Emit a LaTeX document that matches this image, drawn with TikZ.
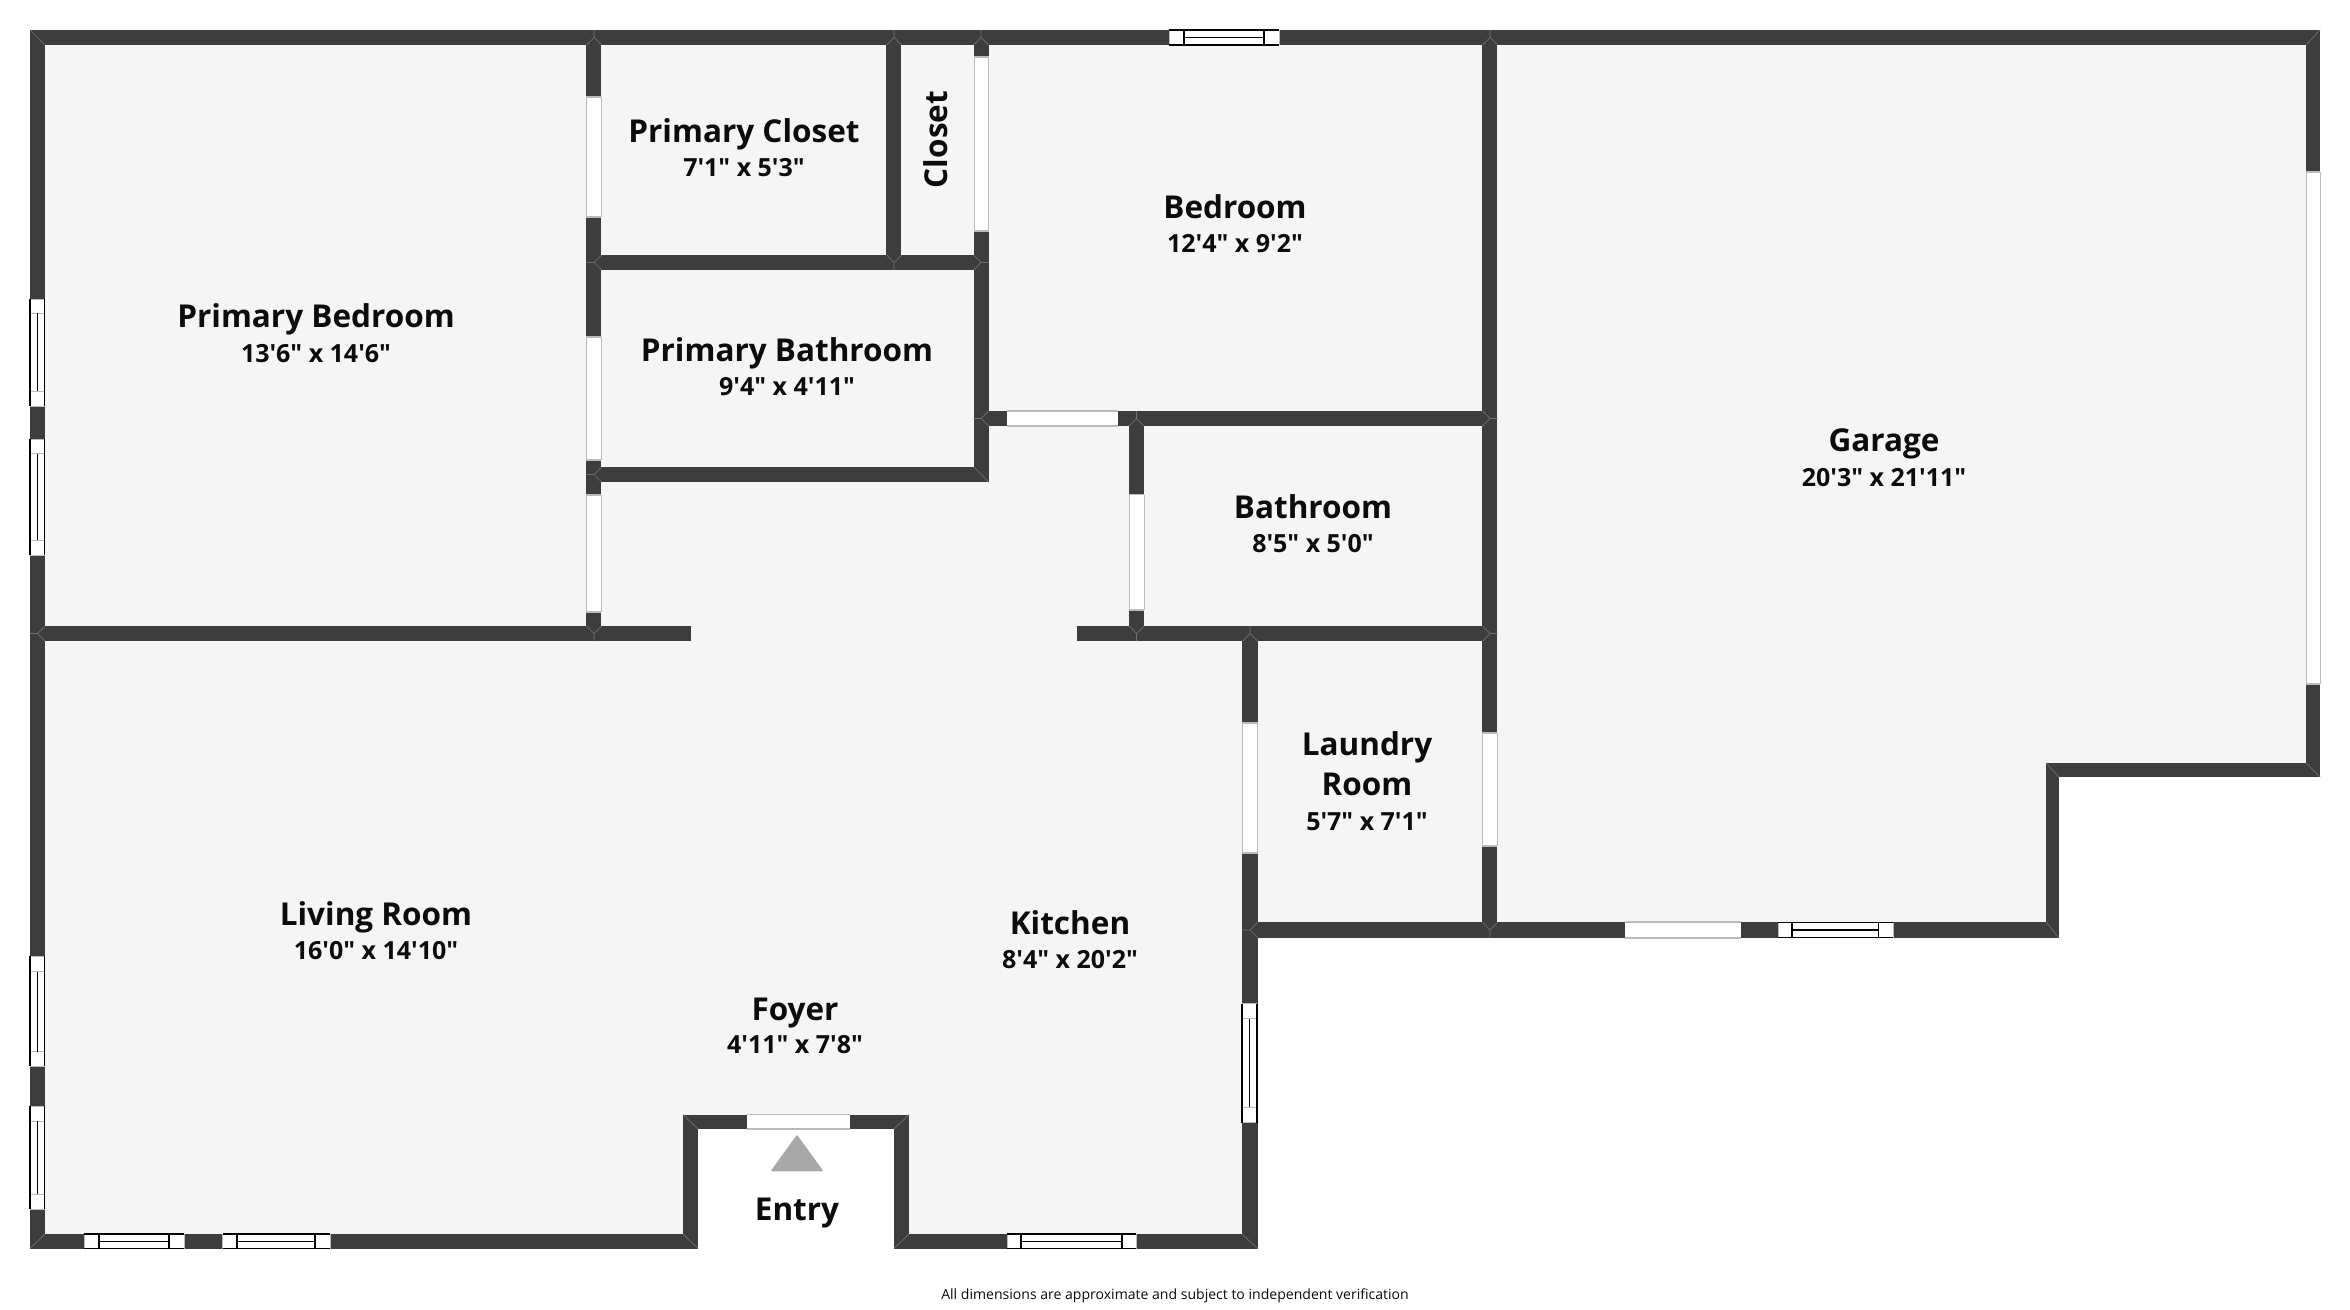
\documentclass[tikz,border=0pt]{standalone}
\usepackage{fontspec}
\newfontfamily\labelfont{Open Sans}
\definecolor{wallc}{HTML}{3D3D3D}
\definecolor{floorc}{HTML}{F5F5F5}
\definecolor{seamc}{HTML}{707070}
\definecolor{doorc}{HTML}{BBBBBB}
\definecolor{inkc}{HTML}{0C0C0C}
\definecolor{arrowc}{HTML}{A8A8A8}
\tikzset{
  roomname/.style={anchor=base,inner sep=0pt,text=inkc,font=\labelfont\fontsize{31.5}{36}\selectfont\bfseries},
  roomdim/.style={anchor=base,inner sep=0pt,text=inkc,font=\labelfont\fontsize{25}{30}\selectfont\bfseries},
  notetext/.style={anchor=base,inner sep=0pt,text=inkc,font=\labelfont\fontsize{14.05}{18}\selectfont},
  wallrect/.style={fill=wallc,draw=none},
  seamline/.style={draw=seamc,line width=0.7pt},
  dooredge/.style={draw=doorc,line width=1.2pt},
  winframe/.style={draw=black,line width=1.1pt},
  wincap/.style={draw=doorc,line width=1pt}
}
% wall rectangle
\newcommand{\wallbox}[4]{\fill[wallrect] (#1,#2) rectangle (#3,#4);}
% opening in a vertical wall: x1 x2 y1 y2
\newcommand{\doorv}[4]{\fill[white] (#1,#3) rectangle (#2,#4);
  \draw[dooredge] (#1,#3) -- (#2,#3) (#1,#4) -- (#2,#4);
  \draw[draw=doorc,line width=0.8pt] (#1,#3) -- (#1,#4) (#2,#3) -- (#2,#4);}
% opening in a horizontal wall: x1 x2 y1 y2
\newcommand{\doorh}[4]{\fill[white] (#1,#3) rectangle (#2,#4);
  \draw[dooredge] (#1,#3) -- (#2,#3) (#1,#4) -- (#2,#4);}
% window in vertical wall: x1 x2 y1 in1 in2 y2
\newcommand{\winv}[6]{\fill[white] (#1,#3) rectangle (#2,#6);
  \draw[wincap] (#1,#3) -- (#2,#3) (#1,#6) -- (#2,#6) (#1,#4) -- (#2,#4) (#1,#5) -- (#2,#5);
  \draw[winframe] (#1,#3) -- (#1,#6) (#2,#3) -- (#2,#6) ({(#1+#2)/2},#4) -- ({(#1+#2)/2},#5);}
% window in horizontal wall: x1 in1 in2 x2 y1 y2
\newcommand{\winh}[6]{\fill[white] (#1,#5) rectangle (#4,#6);
  \draw[wincap] (#1,#5) -- (#1,#6) (#4,#5) -- (#4,#6);
  \draw[winframe] (#1,#5) -- (#4,#5) (#1,#6) -- (#4,#6) (#2,#5) -- (#2,#6) (#3,#5) -- (#3,#6) (#2,{(#5+#6)/2}) -- (#3,{(#5+#6)/2});}
% T-junction seam: x y stemx stemy
\newcommand{\seamT}[4]{\draw[seamline] (#1,#2) -- ({#1+7.5*#3},{#2+7.5*#4})
  (#1,#2) -- ({#1-7.5*#3+7.5*#4},{#2-7.5*#4+7.5*#3})
  (#1,#2) -- ({#1-7.5*#3-7.5*#4},{#2-7.5*#4-7.5*#3});}
\begin{document}
\begin{tikzpicture}[x=1pt,y=-1pt]
\useasboundingbox (0,0) rectangle (2350,1309);
\fill[white] (0,0) rectangle (2350,1309);
% floor
\fill[floorc] (30,30) -- (2320,30) -- (2320,777) -- (2059,777) -- (2059,938) -- (1257.5,938) -- (1257.5,1248.5) -- (894,1248.5) -- (894,1129) -- (698,1129) -- (698,1248.5) -- (30,1248.5) -- cycle;
% outer walls
\wallbox{30}{30}{2320}{45}
\wallbox{30}{30}{45}{1248.5}
\wallbox{30}{1234}{698}{1248.5}
\wallbox{683}{1114.5}{909}{1129}
\wallbox{683}{1114.5}{698}{1248.5}
\wallbox{894}{1114.5}{909}{1248.5}
\wallbox{894}{1234}{1257.5}{1248.5}
\wallbox{1242}{626}{1257.5}{1248.5}
\wallbox{1242}{922}{2059}{938}
\wallbox{2046}{763}{2059}{938}
\wallbox{2046}{763}{2320}{777}
\wallbox{2306}{30}{2320}{777}
% inner walls
\wallbox{586}{30}{601}{641}
\wallbox{886}{30}{901}{270}
\wallbox{974}{30}{988.5}{482}
\wallbox{586}{255}{988.5}{270}
\wallbox{586}{467}{988.5}{482}
\wallbox{974}{411}{1497}{426}
\wallbox{1129}{411}{1144}{641}
\wallbox{30}{626}{691}{641}
\wallbox{1077}{626}{1497}{641}
\wallbox{1482}{30}{1497}{938}
% seams at corners
\draw[seamline] (30,30) -- (45,45) (2320,30) -- (2306,45) (30,1248.5) -- (45,1234) (1257.5,1248.5) -- (1242,1234)
  (683,1114.5) -- (698,1129) (909,1114.5) -- (894,1129) (683,1234) -- (698,1248.5) (909,1234) -- (894,1248.5)
  (2320,777) -- (2306,763) (2046,763) -- (2059,777) (2059,938) -- (2046,922) (988.5,482) -- (974,467);
\seamT{594}{37.5}{0}{-1}
\seamT{894}{37.5}{0}{-1}
\seamT{981}{37.5}{0}{-1}
\seamT{1490}{37.5}{0}{-1}
\seamT{594}{262.5}{-1}{0}
\seamT{894}{262.5}{0}{1}
\seamT{981}{262.5}{1}{0}
\seamT{594}{474.5}{-1}{0}
\seamT{981}{418.5}{-1}{0}
\seamT{1136.5}{418.5}{0}{-1}
\seamT{1490}{418.5}{1}{0}
\seamT{37.5}{633.5}{-1}{0}
\seamT{594}{633.5}{0}{1}
\seamT{1136.5}{633.5}{0}{1}
\seamT{1250}{633.5}{0}{-1}
\seamT{1490}{633.5}{1}{0}
\seamT{1250}{930}{-1}{0}
\seamT{1490}{930}{0}{1}
% doors
\doorv{586}{601}{97}{217}
\doorv{586}{601}{337}{460}
\doorv{586}{601}{495}{612}
\doorv{974}{988.5}{57}{231}
\doorh{1007}{1118}{411}{426}
\doorv{1129}{1144}{494.5}{610}
\doorv{1242}{1257.5}{723}{853}
\doorv{1482}{1497}{733}{846}
\doorv{2306}{2320}{172}{684}
\doorh{1625}{1741}{922}{938}
\doorh{747}{850}{1114.5}{1129}
% windows
\winv{30}{44.5}{299}{313}{391}{406}
\winv{30}{44.5}{439}{453.5}{540}{555}
\winv{30}{44.5}{956}{971.5}{1051.5}{1066}
\winv{30}{44.5}{1106}{1121}{1194}{1209}
\winv{1242}{1257}{1003.5}{1018.6}{1107}{1122.5}
\winh{1169}{1184}{1264}{1279}{30}{45}
\winh{84}{99}{169}{184}{1234}{1248.5}
\winh{222.6}{237}{315}{330}{1234}{1248.5}
\winh{1007}{1021}{1122}{1136}{1234}{1248.5}
\winh{1778}{1792}{1878.5}{1893}{922.5}{937.5}
% entry arrow
\fill[arrowc,draw=arrowc,line width=1.5pt,line join=round] (797,1136) -- (822,1170.5) -- (772,1170.5) -- cycle;
% labels
\node[roomname] (pbedname) at (316,327.4) {Primary Bedroom};
\node[roomdim] (pbeddim) at (316,362) {13'6" x 14'6"};
\node[roomname] (pclosetname) at (744,142) {Primary Closet};
\node[roomdim] (pclosetdim) at (744,176.5) {7'1" x 5'3"};
\node[roomname,rotate=90] (closetname) at (947,139.5) {Closet};
\node[roomname] (pbathname) at (787,361.5) {Primary Bathroom};
\node[roomdim] (pbathdim) at (787,395) {9'4" x 4'11"};
\node[roomname] (bedname) at (1235,218) {Bedroom};
\node[roomdim] (beddim) at (1235,252.5) {12'4" x 9'2"};
\node[roomname] (garagename) at (1884,451) {Garage};
\node[roomdim] (garagedim) at (1884,486.5) {20'3" x 21'11"};
\node[roomname] (bathname) at (1313,518.5) {Bathroom};
\node[roomdim] (bathdim) at (1313,552) {8'5" x 5'0"};
\node[roomname] (laundryname) at (1367,755) {Laundry};
\node[roomname] (laundryroom) at (1367,795.4) {Room};
\node[roomdim] (laundrydim) at (1367,830.7) {5'7" x 7'1"};
\node[roomname] (livingname) at (376,925) {Living Room};
\node[roomdim] (livingdim) at (376,959.5) {16'0" x 14'10"};
\node[roomname] (kitchenname) at (1070,934) {Kitchen};
\node[roomdim] (kitchendim) at (1070,968) {8'4" x 20'2"};
\node[roomname] (foyername) at (795,1020) {Foyer};
\node[roomdim] (foyerdim) at (795,1053.5) {4'11" x 7'8"};
\node[roomname] (entryname) at (797,1220) {Entry};
\node[notetext] (note) at (1175,1299) {All dimensions are approximate and subject to independent verification};
\end{tikzpicture}
\end{document}
